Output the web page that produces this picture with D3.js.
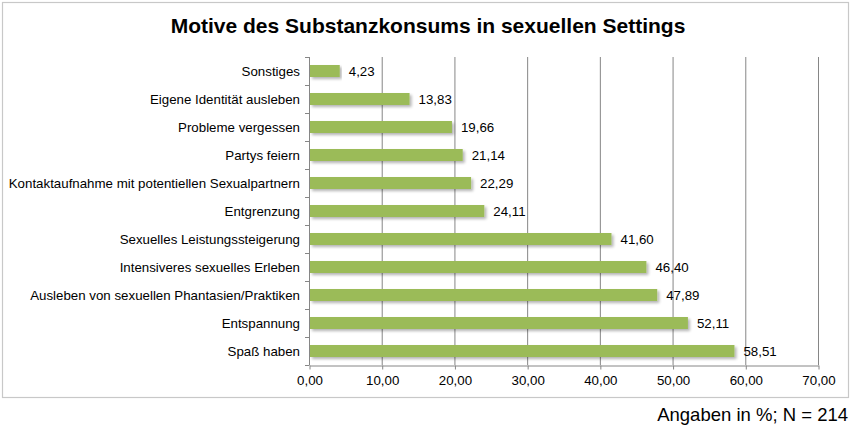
<!DOCTYPE html>
<html>
<head>
<meta charset="utf-8">
<script src="https://cdn.jsdelivr.net/npm/d3@7"></script>
<style>
  body { margin: 0; background: #fff; }
  svg { font-family: "Liberation Sans", Arial, sans-serif; }
</style>
</head>
<body>
<div id="chart"></div>
<script>
// data
const categories = [
  "Sonstiges",
  "Eigene Identität ausleben",
  "Probleme vergessen",
  "Partys feiern",
  "Kontaktaufnahme mit potentiellen Sexualpartnern",
  "Entgrenzung",
  "Sexuelles Leistungssteigerung",
  "Intensiveres sexuelles Erleben",
  "Ausleben von sexuellen Phantasien/Praktiken",
  "Entspannung",
  "Spaß haben"
];
const values = [4.23, 13.83, 19.66, 21.14, 22.29, 24.11, 41.60, 46.40, 47.89, 52.11, 58.51];
const xTicks = [0, 10, 20, 30, 40, 50, 60, 70];

const w = 850;
const h = 436;
const fmt = (v) => v.toFixed(2).replace(".", ",");

const svg = d3.select("#chart")
  .append("svg")
  .attr("width", w)
  .attr("height", h);

// soft shadow under the bars
const defs = svg.append("defs");
const f = defs.append("filter").attr("id", "shadow")
  .attr("x", "-5%").attr("y", "-50%").attr("width", "110%").attr("height", "220%");
f.append("feGaussianBlur").attr("in", "SourceAlpha").attr("stdDeviation", 1.8);
f.append("feOffset").attr("dx", 2).attr("dy", 2);
f.append("feComponentTransfer").append("feFuncA").attr("type", "linear").attr("slope", 0.3);
const m = f.append("feMerge");
m.append("feMergeNode");
m.append("feMergeNode").attr("in", "SourceGraphic");

// outer chart border
svg.append("rect")
  .attr("x", 2.5).attr("y", 2.5)
  .attr("width", 846).attr("height", 395)
  .attr("fill", "#fff")
  .attr("stroke", "#c8c8c8")
  .attr("stroke-width", 1.2);

svg.append("text")
  .attr("x", 428).attr("y", 33)
  .attr("text-anchor", "middle")
  .attr("font-size", 21)
  .attr("font-weight", "bold")
  .text("Motive des Substanzkonsums in sexuellen Settings");

const xScale = d3.scaleLinear()
  .domain([0, 70])
  .range([309, 818]);

const yScale = d3.scaleBand()
  .domain(categories)
  .range([57, 365]);

// gridlines
svg.append("g")
  .selectAll("line")
  .data(xTicks.slice(1))
  .enter()
  .append("line")
  .attr("x1", (d) => xScale(d) + 0.5)
  .attr("x2", (d) => xScale(d) + 0.5)
  .attr("y1", 57)
  .attr("y2", 365)
  .attr("stroke", "#868686")
  .attr("stroke-width", 1);

// bars
const barH = 12;
svg.append("g")
  .selectAll("rect")
  .data(values)
  .enter()
  .append("rect")
  .attr("x", xScale(0) + 1)
  .attr("y", (d, i) => yScale(categories[i]) + yScale.bandwidth() / 2 - barH / 2)
  .attr("width", (d) => xScale(d) - xScale(0) - 1)
  .attr("height", barH)
  .attr("fill", "#9bbb59")
  .attr("filter", "url(#shadow)");

// value labels
svg.append("g")
  .selectAll("text")
  .data(values)
  .enter()
  .append("text")
  .attr("x", (d) => xScale(d) + 9)
  .attr("y", (d, i) => yScale(categories[i]) + yScale.bandwidth() / 2 + 5)
  .attr("font-size", 13.3)
  .attr("fill", "#000")
  .text((d) => fmt(d));

// x axis
const xAxis = d3.axisBottom(xScale)
  .tickValues(xTicks)
  .tickFormat(fmt)
  .tickSize(4)
  .tickSizeOuter(0);

const gx = svg.append("g")
  .attr("transform", "translate(0.5,365.5)")
  .call(xAxis);
gx.select(".domain").attr("stroke", "#868686");
gx.selectAll(".tick line").attr("stroke", "#868686");
gx.selectAll(".tick text")
  .attr("font-size", 13.3)
  .attr("font-family", "Liberation Sans, Arial, sans-serif")
  .attr("fill", "#000")
  .attr("dy", "0.95em");

// y axis: ticks at band boundaries
const yAxisLine = svg.append("g");
yAxisLine.append("line")
  .attr("x1", 309.5).attr("x2", 309.5)
  .attr("y1", 57).attr("y2", 365)
  .attr("stroke", "#868686");
const bounds = categories.map((c) => yScale(c)).concat([yScale.range()[1]]);
yAxisLine.selectAll("line.tk")
  .data(bounds)
  .enter()
  .append("line")
  .attr("class", "tk")
  .attr("x1", 305).attr("x2", 309.5)
  .attr("y1", (d) => Math.round(d) + 0.5)
  .attr("y2", (d) => Math.round(d) + 0.5)
  .attr("stroke", "#868686");

// category labels
svg.append("g")
  .selectAll("text")
  .data(categories)
  .enter()
  .append("text")
  .attr("x", 300)
  .attr("y", (d) => yScale(d) + yScale.bandwidth() / 2 + 5)
  .attr("text-anchor", "end")
  .attr("font-size", 13.3)
  .attr("fill", "#000")
  .text((d) => d);

// note below the frame
svg.append("text")
  .attr("x", 848)
  .attr("y", 421)
  .attr("text-anchor", "end")
  .attr("font-size", 18.5)
  .text("Angaben in %; N = 214");
</script>
</body>
</html>
